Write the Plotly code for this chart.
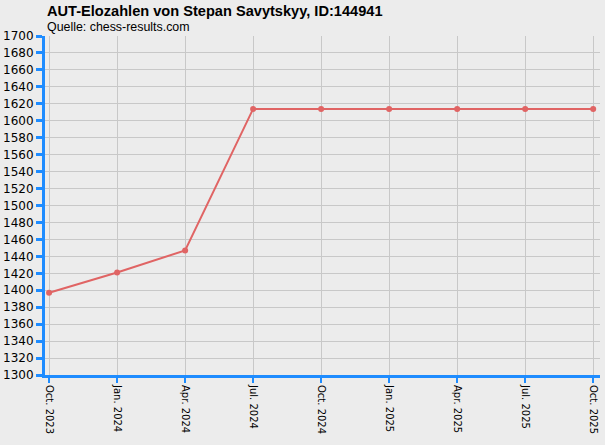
import plotly.graph_objects as go

# monthly rating list dates and Elo values
months = ["Oct. 2023", "Jan. 2024", "Apr. 2024", "Jul. 2024", "Oct. 2024",
          "Jan. 2025", "Apr. 2025", "Jul. 2025", "Oct. 2025"]
elo = [1397, 1421, 1447, 1614, 1614, 1614, 1614, 1614, 1614]

blue = "#1e8cff"
fig = go.Figure()
fig.add_trace(go.Scatter(
    x=months, y=elo, mode="lines+markers",
    line=dict(color="#e06464", width=2),
    marker=dict(color="#e06464", size=6),
    hoverinfo="x+y",
))

fig.update_layout(
    width=605, height=445,
    margin=dict(l=45, r=5, t=36, b=70, autoexpand=False),
    paper_bgcolor="#ececec", plot_bgcolor="#ececec",
    font=dict(family="DejaVu Sans", color="black"),
    showlegend=False,
)
fig.add_annotation(text="<b>AUT-Elozahlen von Stepan Savytskyy, ID:144941</b>",
                   xref="paper", yref="paper", x=0, y=1, yshift=15,
                   xanchor="left", yanchor="bottom", showarrow=False,
                   font=dict(size=14.6, family="Liberation Sans"))
fig.add_annotation(text="Quelle: chess-results.com",
                   xref="paper", yref="paper", x=0, y=1, yshift=0,
                   xanchor="left", yanchor="bottom", showarrow=False,
                   font=dict(size=12.4, family="Liberation Sans"))

fig.update_xaxes(
    type="category", range=[-0.06, 8.1], automargin=False,
    tickangle=90, tickfont=dict(size=10),
    showgrid=True, gridcolor="#c8c8c8", gridwidth=1,
    showline=True, linecolor=blue, linewidth=3,
    ticks="outside", tickcolor=blue, tickwidth=2, ticklen=5,
)
fig.update_yaxes(
    range=[1300, 1700], dtick=20, tickfont=dict(size=12), automargin=False,
    showgrid=True, gridcolor="#c8c8c8", gridwidth=1, zeroline=False,
    showline=True, linecolor=blue, linewidth=3,
    ticks="outside", tickcolor=blue, tickwidth=3, ticklen=6,
)

# drop the default 8px body margin so the figure fills the window
fig.write_html("out.html", config={"displayModeBar": False},
               post_script="document.body.style.margin='0';"
               "document.body.style.background='#ececec';")
